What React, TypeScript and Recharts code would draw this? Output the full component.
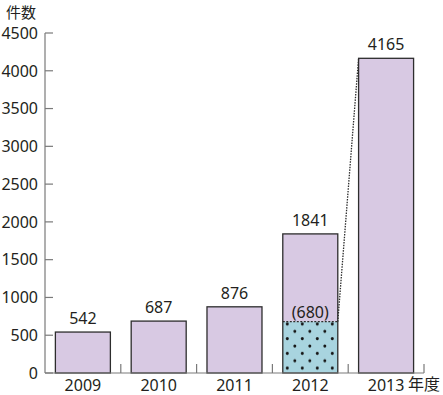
import React from 'react';
import { BarChart, Bar, XAxis, YAxis, LabelList } from 'recharts';

const years = ['2009', '2010', '2011', '2012', '2013'];
const totals = [542, 687, 876, 1841, 4165];
const dottedPart = [0, 0, 0, 680, 0];
const yTicks = [0, 500, 1000, 1500, 2000, 2500, 3000, 3500, 4000, 4500];
const yTitle = '件数';
const xTitle = '年度';

const data = years.map((year, i) => ({ year, total: totals[i], part: dottedPart[i] }));

const PURPLE = '#d8c9e3';
const BLUE = '#a8d4df';
const EDGE = '#2d2d2d';
const AXIS = '#7a7a7a';
const TEXT = '#231f20';
const FONT = '"Noto Sans", "Open Sans", sans-serif';
const CJK = '"Noto Sans CJK JP", "Noto Sans", sans-serif';
const FS = 16;
const AXIS_FS = 16;
const Y_TICK_MARGIN = 7;
const TICK_LEN = 8;

const geom: Record<number, { right: number; partY: number }> = {};

function BarShape(props: any) {
  const { x, y, width, height, payload, index } = props;
  const total = payload.total;
  const part = payload.part;
  const bottom = y + height;
  const prev = geom[index - 1];
  let body: React.ReactNode;
  if (part > 0) {
    const ph = (height * part) / total;
    const py = bottom - ph;
    geom[index] = { right: x + width, partY: py };
    body = (
      <g>
        <defs>
          <pattern id="dots" patternUnits="userSpaceOnUse" width={15} height={14.7}>
            <rect x={0} y={0} width={15} height={14.7} fill={BLUE} />
            <circle cx={2.3} cy={0.6} r={1.5} fill="#161616" />
            <circle cx={2.3} cy={15.3} r={1.5} fill="#161616" />
            <circle cx={9.8} cy={7.95} r={1.5} fill="#161616" />
          </pattern>
        </defs>
        <rect x={x} y={y} width={width} height={py - y} fill={PURPLE} />
        <rect x={x} y={py} width={width} height={ph} fill="url(#dots)" />
        <line x1={x} x2={x + width} y1={py} y2={py} stroke={EDGE} strokeWidth={1.2} strokeDasharray="2 1.5" />
        <rect x={x} y={y} width={width} height={height} fill="none" stroke={EDGE} strokeWidth={1.3} />
        <text x={x + width / 2} y={py - 4} textAnchor="middle" fontFamily={FONT} fontSize={FS} fill={TEXT}>
          ({part})
        </text>
      </g>
    );
  } else {
    body = <rect x={x} y={y} width={width} height={height} fill={PURPLE} stroke={EDGE} strokeWidth={1.3} />;
  }
  return (
    <g>
      {body}
      {prev ? (
        <line x1={prev.right} y1={prev.partY} x2={x} y2={y} stroke={EDGE} strokeWidth={1.3} strokeDasharray="1.5 1.2" />
      ) : null}
    </g>
  );
}

function YTick(props: any) {
  const { x, y, payload } = props;
  return (
    <g>
      <line x1={x + Y_TICK_MARGIN} x2={x + Y_TICK_MARGIN + TICK_LEN} y1={y} y2={y} stroke={AXIS} strokeWidth={1.2} />
      <text x={x} y={y} dy="0.36em" textAnchor="end" fontFamily={FONT} fontSize={AXIS_FS} fill={TEXT}>
        {payload.value}
      </text>
    </g>
  );
}

function XTick(props: any) {
  const { x, y, payload } = props;
  const off = payload.offset ?? 0;
  const axisY = y - 6;
  return (
    <g>
      <line x1={x + off} x2={x + off} y1={axisY} y2={axisY - TICK_LEN - 1} stroke={AXIS} strokeWidth={1.2} />
      <text x={x} y={y} dy="0.72em" textAnchor="middle" fontFamily={FONT} fontSize={AXIS_FS} fill={TEXT}>
        {payload.value}
      </text>
    </g>
  );
}

export default function App() {
  return (
    <div style={{ position: 'absolute', left: 0, top: 0, width: 443, height: 395 }}>
      <BarChart
        width={443}
        height={395}
        data={data}
        margin={{ top: 33, right: 19, left: 0, bottom: 0 }}
        barCategoryGap="13.7%"
      >
        <XAxis
          dataKey="year"
          interval={0}
          tickLine={false}
          tickSize={0}
          tickMargin={6}
          height={22}
          axisLine={{ stroke: AXIS, strokeWidth: 1.2 }}
          tick={<XTick />}
        />
        <YAxis
          domain={[0, 4500]}
          ticks={yTicks}
          interval={0}
          width={45}
          tickLine={false}
          tickSize={0}
          tickMargin={Y_TICK_MARGIN}
          axisLine={{ stroke: AXIS, strokeWidth: 1.2 }}
          tick={<YTick />}
        />
        <Bar dataKey="total" shape={BarShape} isAnimationActive={false}>
          <LabelList dataKey="total" position="top" offset={8} fill={TEXT} fontFamily={FONT} fontSize={FS} />
        </Bar>
      </BarChart>
      <svg
        width={443}
        height={395}
        style={{ position: 'absolute', left: 0, top: 0, pointerEvents: 'none' }}
      >
        <text x={6} y={17.5} fontFamily={CJK} fontSize={15} fill={TEXT}>
          {yTitle}
        </text>
        <text x={408} y={390} fontFamily={CJK} fontSize={16} fill={TEXT}>
          {xTitle}
        </text>
      </svg>
    </div>
  );
}
